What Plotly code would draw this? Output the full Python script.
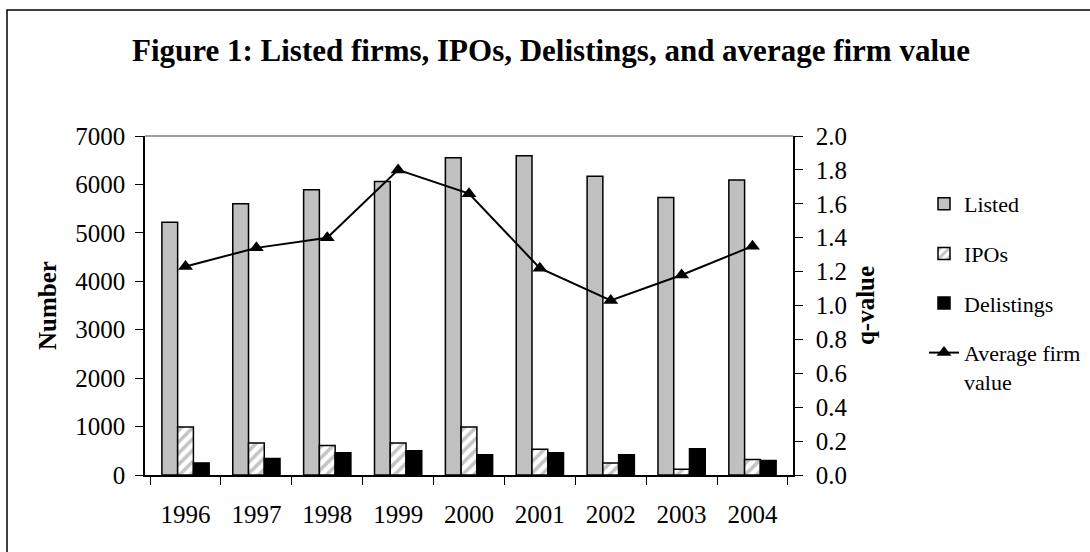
import plotly.graph_objects as go

years = ["1996", "1997", "1998", "1999", "2000", "2001", "2002", "2003", "2004"]
listed = [5220, 5600, 5890, 6060, 6550, 6590, 6170, 5730, 6090]
ipos = [990, 660, 610, 660, 990, 530, 250, 120, 320]
delistings = [250, 340, 460, 500, 420, 460, 420, 540, 300]
qvalue = [1.23, 1.34, 1.40, 1.80, 1.66, 1.22, 1.03, 1.18, 1.35]

left_ticks = [0, 1000, 2000, 3000, 4000, 5000, 6000, 7000]
right_ticks = [0.0, 0.2, 0.4, 0.6, 0.8, 1.0, 1.2, 1.4, 1.6, 1.8, 2.0]

FONT = "Liberation Serif"
W, H = 1090, 552
L, R, T, B = 145, 297, 136, 77

fig = go.Figure()
fig.add_trace(go.Bar(
    x=years, y=listed, name="Listed",
    marker=dict(color="#C0C0C0", line=dict(color="black", width=1.5)),
    legendgroup="a",
))
fig.add_trace(go.Bar(
    x=years, y=ipos, name="IPOs",
    marker=dict(color="white", line=dict(color="black", width=1.5),
                pattern=dict(shape="/", fgcolor="#8C8C8C", bgcolor="white",
                             size=8, solidity=0.45)),
    legendgroup="b",
))
fig.add_trace(go.Bar(
    x=years, y=delistings, name="Delistings",
    marker=dict(color="black", line=dict(color="black", width=1.5)),
    legendgroup="c",
))
fig.add_trace(go.Scatter(
    x=years, y=qvalue, name="Average firm<br>value", yaxis="y2",
    mode="lines+markers",
    line=dict(color="black", width=2),
    marker=dict(symbol="triangle-up", size=13, color="black"),
    legendgroup="d",
))

tickfont = dict(family=FONT, size=25, color="black")
fig.update_layout(
    width=W, height=H,
    margin=dict(l=L, r=R, t=T, b=B),
    paper_bgcolor="white", plot_bgcolor="white",
    barmode="group", bargap=0.333, bargroupgap=0,
    showlegend=True,
    title=dict(text="Figure 1: Listed firms, IPOs, Delistings, and average firm value",
               font=dict(family=FONT, size=31, color="black", weight="bold"),
               x=0.5055, xref="container", xanchor="center",
               y=1 - 50 / H, yref="container", yanchor="middle"),
    xaxis=dict(type="category", tickson="boundaries", ticks="outside", ticklen=8,
               tickwidth=1.2, tickcolor="black", showline=True, linecolor="black",
               linewidth=1.5, showgrid=False, tickfont=tickfont,
               ticklabelstandoff=16),
    xaxis2=dict(overlaying="x", anchor="y", range=[-0.5, 8.5],
                tickvals=[i - 0.5 for i in range(10)], ticks="inside", ticklen=8,
                tickwidth=1.2, tickcolor="black", showticklabels=False,
                showline=False, showgrid=False, zeroline=False),
    yaxis=dict(range=[0, 7000], tickvals=left_ticks, ticks="outside", ticklen=8,
               tickwidth=1.2, tickcolor="black", showline=True, linecolor="black",
               linewidth=1.5, showgrid=False, zeroline=False, tickfont=tickfont,
               ticklabelstandoff=5,
               title=dict(text="Number", standoff=12,
                          font=dict(family=FONT, size=25, color="black", weight="bold"))),
    yaxis3=dict(overlaying="y", side="left", anchor="x", range=[0, 7000],
                tickvals=left_ticks, ticks="inside", ticklen=8, tickwidth=1.2,
                tickcolor="black", showticklabels=False, showline=False,
                showgrid=False, zeroline=False),
    yaxis2=dict(overlaying="y", side="right", anchor="x", range=[0, 2],
                tickvals=right_ticks, tickformat=".1f", ticks="outside", ticklen=8,
                tickwidth=1.2, tickcolor="black", showline=True, linecolor="black",
                linewidth=1.5, showgrid=False, zeroline=False, tickfont=tickfont,
                ticklabelstandoff=8,
                title=dict(text="q-value", standoff=10,
                           font=dict(family=FONT, size=25, color="black", weight="bold"))),
    yaxis4=dict(overlaying="y", side="right", anchor="x", range=[0, 2],
                tickvals=right_ticks, ticks="inside", ticklen=8, tickwidth=1.2,
                tickcolor="black", showticklabels=False, showline=False,
                showgrid=False, zeroline=False),
    legend=dict(x=924 / W, xref="container", xanchor="left",
                y=1 - 183 / H, yref="container", yanchor="top",
                font=dict(family=FONT, size=22, color="black"),
                bgcolor="rgba(0,0,0,0)", tracegroupgap=18, valign="top",
                traceorder="grouped"),
    shapes=[
        dict(type="line", xref="x domain", yref="y domain", x0=0, x1=1, y0=1, y1=1,
             line=dict(color="#808080", width=1.5), layer="below"),
        dict(type="rect", xref="paper", yref="paper",
             x0=(7 - L) / (W - L - R), x1=2.0,
             y0=-1.0, y1=(H - B - 10) / (H - T - B),
             line=dict(color="black", width=1.5), fillcolor="rgba(0,0,0,0)",
             layer="below"),
    ],
)

fig.write_html("out.html", config={"displayModeBar": False},
               post_script="document.body.style.margin='0';document.body.style.overflow='hidden';")
